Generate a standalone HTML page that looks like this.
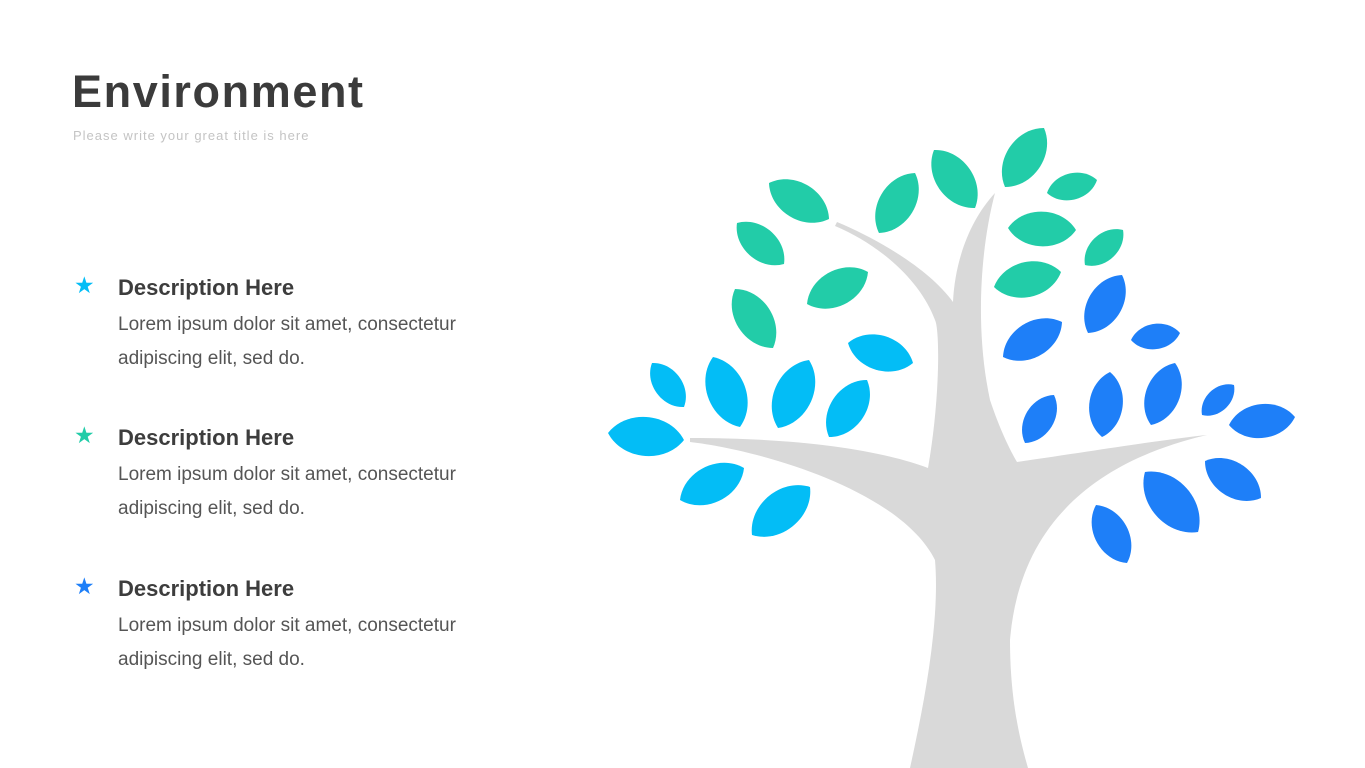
<!DOCTYPE html>
<html><head><meta charset="utf-8"><style>
body{margin:0;width:1365px;height:768px;background:#fff;overflow:hidden;position:relative;font-family:"Liberation Sans",sans-serif;}
.t{position:absolute;left:72px;top:66px;font-size:45px;font-weight:bold;color:#3b3b3b;letter-spacing:1.6px}
.s{position:absolute;left:73px;top:128px;font-size:13px;color:#c4c4c4;letter-spacing:1px}
.h{position:absolute;left:118px;font-size:22px;font-weight:bold;color:#3d3d3d}
.b{position:absolute;left:118px;font-size:19px;color:#555;line-height:34px}
.st{position:absolute;left:74px;font-size:23px}
svg{position:absolute;left:0;top:0}
</style></head><body>
<div class="t">Environment</div>
<div class="s">Please write your great title is here</div>
<div class="st" style="top:272px;color:#03BDF6">★</div>
<div class="h" style="top:275px">Description Here</div>
<div class="b" style="top:308px">Lorem ipsum dolor sit amet, consectetur<br>adipiscing elit, sed do.</div>
<div class="st" style="top:422px;color:#22CCA8">★</div>
<div class="h" style="top:425px">Description Here</div>
<div class="b" style="top:458px">Lorem ipsum dolor sit amet, consectetur<br>adipiscing elit, sed do.</div>
<div class="st" style="top:573px;color:#1E7FF8">★</div>
<div class="h" style="top:576px">Description Here</div>
<div class="b" style="top:609px">Lorem ipsum dolor sit amet, consectetur<br>adipiscing elit, sed do.</div>
<svg width="1365" height="768" id="s" xmlns="http://www.w3.org/2000/svg">
<path fill="#D9D9D9" d="M910 768 C925 700 940 620 935 560 C900 490 760 450 690 442 L690 438 C800 438 880 450 928 468 C940 400 940 330 935 320 C920 280 880 245 835 226 L837 222 C880 240 930 270 953 302 C955 260 970 220 995 193 C980 250 975 330 990 400 C1000 430 1010 450 1017 462 C1100 450 1160 440 1207 435 C1100 460 1020 520 1010 640 C1010 700 1020 740 1028 768 Z"/>
</svg>
<script>
var L=[
["#22CCA8",769,183,829,219],["#22CCA8",879,233,915,173],["#22CCA8",934,150,975,208],["#22CCA8",1005,187,1044,128],["#22CCA8",1047,193,1097,180],
["#22CCA8",737,223,784,264],["#22CCA8",807,304,868,272],["#22CCA8",735,289,773,348],["#22CCA8",1008,228,1076,230],["#22CCA8",1085,265,1123,230],["#22CCA8",994,287,1061,272],
["#03BDF6",848,343,913,363],["#03BDF6",652,363,684,407],["#03BDF6",713,357,740,427],["#03BDF6",778,428,809,360],["#03BDF6",829,437,867,380],
["#03BDF6",608,433,684,440],["#03BDF6",680,500,744,468],["#03BDF6",752,535,810,487],
["#1E7FF8",1088,333,1122,275],["#1E7FF8",1003,357,1062,322],["#1E7FF8",1131,340,1180,333],["#1E7FF8",1025,443,1054,395],["#1E7FF8",1110,372,1102,437],
["#1E7FF8",1151,425,1175,363],["#1E7FF8",1202,415,1234,385],["#1E7FF8",1229,425,1295,417],["#1E7FF8",1205,461,1261,498],["#1E7FF8",1145,472,1198,532],["#1E7FF8",1096,505,1127,563]];
var s=document.getElementById('s');
L.forEach(function(l){
  var x1=l[1],y1=l[2],x2=l[3],y2=l[4];
  var len=Math.hypot(x2-x1,y2-y1);
  var ang=Math.atan2(y2-y1,x2-x1)*180/Math.PI;
  var mx=(x1+x2)/2,my=(y1+y2)/2;
  var p=document.createElementNS('http://www.w3.org/2000/svg','path');
  p.setAttribute('fill',l[0]);
  p.setAttribute('d','M-50 0 C-28 -34 28 -34 50 0 C28 34 -28 34 -50 0 Z');
  p.setAttribute('transform','translate('+mx.toFixed(1)+' '+my.toFixed(1)+') rotate('+ang.toFixed(1)+') scale('+(len/100).toFixed(3)+')');
  s.appendChild(p);
});
</script>
</body></html>
